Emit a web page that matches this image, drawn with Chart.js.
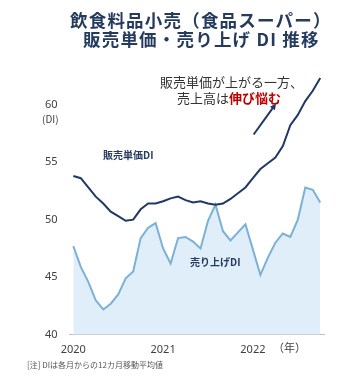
<!DOCTYPE html>
<html lang="ja">
  <head>
    <meta charset="UTF-8" />
    <title>販売単価・売り上げ DI 推移</title>
    <script src="https://cdn.jsdelivr.net/npm/chart.js"></script>
    <style>
      html, body { margin: 0; padding: 0; background: #fff; }
      .quadro { position: relative; width: 350px; height: 375px; font-family: "Noto Sans CJK JP", "Noto Sans", sans-serif; }
      .quadro canvas { position: absolute; left: 0; top: 0; }
      .txt { position: absolute; white-space: nowrap; line-height: 1; }
      .titulo { font-size: 17.5px; font-weight: bold; color: #243b5e; letter-spacing: 1.2px; }
      .nota { font-size: 13px; color: #333; }
      .rotulo { font-size: 10px; font-weight: bold; color: #243b5e; }
    </style>
  </head>
  <body>
    <div class="quadro">
      <canvas id="grafico" width="350" height="375"></canvas>
      <div class="txt titulo" style="left: 70px; top: 11px">飲食料品小売（食品スーパー）</div>
      <div class="txt titulo" style="left: 83px; top: 30px">販売単価・売り上げ DI 推移</div>
      <div class="txt nota" style="left: 160px; top: 75px">販売単価が上がる一方、</div>
      <div class="txt nota" style="left: 177px; top: 91px">売上高は<b style="color: #c00000">伸び悩む</b></div>
      <div class="txt rotulo" style="left: 103px; top: 150px">販売単価DI</div>
      <div class="txt rotulo" style="left: 190px; top: 257px">売り上げDI</div>
      <div class="txt" style="left: 42px; top: 114px; font-size: 10px; color: #404040">(DI)</div>
      <div class="txt" style="left: 273px; top: 342px; font-size: 11px; color: #404040">（年）</div>
      <div class="txt" style="left: 27px; top: 361px; font-size: 8px; color: #555">[注] DIは各月からの12カ月移動平均値</div>
    </div>
  </body>
</html>

<script>
  // meses de jan/2020 a out/2022
  const meses = [
    "2020-01", "2020-02", "2020-03", "2020-04", "2020-05", "2020-06",
    "2020-07", "2020-08", "2020-09", "2020-10", "2020-11", "2020-12",
    "2021-01", "2021-02", "2021-03", "2021-04", "2021-05", "2021-06",
    "2021-07", "2021-08", "2021-09", "2021-10", "2021-11", "2021-12",
    "2022-01", "2022-02", "2022-03", "2022-04", "2022-05", "2022-06",
    "2022-07", "2022-08", "2022-09", "2022-10",
  ];

  // 販売単価DI
  const precoUnitario = [
    53.8, 53.6, 52.8, 52.0, 51.4, 50.7, 50.3, 49.9, 50.0, 50.9, 51.4, 51.4,
    51.6, 51.85, 52.0, 51.7, 51.5, 51.6, 51.4, 51.3, 51.4, 51.8, 52.3, 52.8,
    53.6, 54.4, 54.9, 55.4, 56.4, 58.2, 59.1, 60.3, 61.2, 62.3,
  ];

  // 売り上げDI
  const vendas = [
    47.7, 45.9, 44.6, 43.0, 42.2, 42.7, 43.5, 44.9, 45.5, 48.4, 49.3, 49.7,
    47.5, 46.2, 48.4, 48.5, 48.1, 47.5, 49.9, 51.3, 49.0, 48.2, 48.9, 49.6,
    47.4, 45.2, 46.7, 48.0, 48.8, 48.5, 50.0, 52.8, 52.6, 51.5,
  ];

  const rotulosAno = { "2020-01": "2020", "2021-01": "2021", "2022-01": "2022" };

  // seta "上がる" desenhada a partir das escalas
  const seta = {
    id: "seta",
    afterDatasetsDraw(chart) {
      const x = chart.scales.x, y = chart.scales.y, ctx = chart.ctx;
      const x0 = x.getPixelForValue(24.1), y0 = y.getPixelForValue(57.4);
      const x1 = x.getPixelForValue(27.1), y1 = y.getPixelForValue(60.1);
      const ang = Math.atan2(y1 - y0, x1 - x0);
      ctx.save();
      ctx.strokeStyle = "#1f3864";
      ctx.fillStyle = "#1f3864";
      ctx.lineWidth = 2;
      ctx.beginPath();
      ctx.moveTo(x0, y0);
      ctx.lineTo(x1 - 4 * Math.cos(ang), y1 - 4 * Math.sin(ang));
      ctx.stroke();
      ctx.beginPath();
      ctx.moveTo(x1, y1);
      ctx.lineTo(x1 - 7 * Math.cos(ang - 0.45), y1 - 7 * Math.sin(ang - 0.45));
      ctx.lineTo(x1 - 7 * Math.cos(ang + 0.45), y1 - 7 * Math.sin(ang + 0.45));
      ctx.closePath();
      ctx.fill();
      ctx.restore();
    },
  };

  const dados = {
    labels: meses,
    datasets: [
      {
        label: "販売単価DI",
        data: precoUnitario,
        borderColor: "#1f3864",
        borderWidth: 2,
        pointRadius: 0,
        fill: false,
        tension: 0,
      },
      {
        label: "売り上げDI",
        data: vendas,
        borderColor: "#7bb1d6",
        backgroundColor: "#e0eef9",
        borderWidth: 2,
        pointRadius: 0,
        fill: "start",
        tension: 0,
      },
    ],
  };

  const config = {
    type: "line",
    data: dados,
    options: {
      responsive: false,
      animation: false,
      layout: { padding: { left: 33, right: 26, top: 70, bottom: 11 } },
      plugins: { legend: { display: false }, tooltip: { enabled: false } },
      scales: {
        x: {
          offset: true,
          grid: { display: false, drawTicks: false },
          border: { display: true, color: "#bfbfbf", width: 1 },
          ticks: {
            autoSkip: false,
            maxRotation: 0,
            padding: 8,
            color: "#404040",
            font: { size: 11, family: "'Noto Sans', sans-serif" },
            callback: function (v) {
              return rotulosAno[meses[v]] || "";
            },
          },
        },
        y: {
          min: 40,
          max: 63,
          grid: { display: false, drawTicks: false },
          border: { display: false },
          ticks: {
            stepSize: 5,
            padding: 12,
            color: "#404040",
            font: { size: 11, family: "'Noto Sans', sans-serif" },
            callback: function (v) {
              return v % 5 === 0 ? v : "";
            },
          },
        },
      },
    },
    plugins: [seta],
  };

  // ordem: linha escura por cima da área clara
  dados.datasets[0].order = 0;
  dados.datasets[1].order = 1;

  new Chart(document.getElementById("grafico"), config);
</script>
